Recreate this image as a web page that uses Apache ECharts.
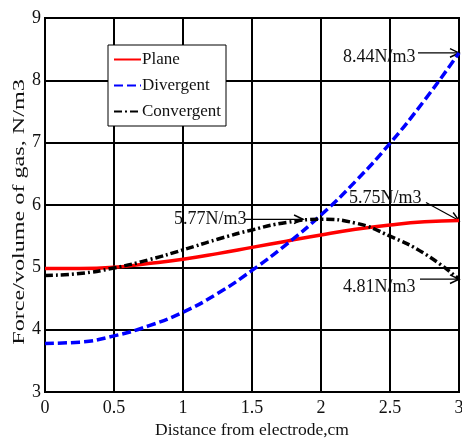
<!DOCTYPE html>
<html>
<head>
<meta charset="utf-8">
<script src="https://cdn.jsdelivr.net/npm/echarts@6/dist/echarts.min.js"></script>
<style>
  html, body { margin: 0; padding: 0; background: #fff; }
  #chart { width: 462px; height: 439px; }
</style>
</head>
<body>
<div id="chart"></div>
<script>
// distance from electrode, cm
const distance = [0, 0.25, 0.5, 0.75, 1, 1.25, 1.5, 1.75, 2, 2.25, 2.5, 2.75, 3];
// force per volume of gas, N/m3
const plane      = [4.98, 4.98, 5.00, 5.06, 5.13, 5.22, 5.32, 5.42, 5.52, 5.61, 5.68, 5.73, 5.75];
const divergent  = [3.78, 3.80, 3.90, 4.06, 4.28, 4.58, 4.95, 5.37, 5.84, 6.38, 6.99, 7.68, 8.44];
const convergent = [4.87, 4.90, 4.99, 5.12, 5.28, 5.45, 5.60, 5.72, 5.77, 5.71, 5.50, 5.22, 4.81];

const notes = [
  { text: '8.44N/m3', at: [3, 8.44] },
  { text: '5.75N/m3', at: [3, 5.75] },
  { text: '4.81N/m3', at: [3, 4.81] },
  { text: '5.77N/m3', at: [1.87, 5.77] }
];

const yName = 'Force/volume of gas, N/m3';

const pair = (ys) => distance.map((x, i) => [x, ys[i]]);
const font = 'Liberation Serif';

let chart = echarts.init(document.getElementById('chart'));

let option = {
  animation: false,
  backgroundColor: '#fff',
  textStyle: { fontFamily: font },
  grid: { left: 45, right: 3, top: 18, bottom: 47, containLabel: false, outerBoundsMode: 'none' },
  legend: {
    orient: 'vertical',
    left: 108, top: 45,
    backgroundColor: '#fff',
    borderColor: '#000', borderWidth: 1,
    padding: [6, 5, 6, 5],
    itemGap: 9,
    itemWidth: 27, itemHeight: 10,
    itemStyle: { opacity: 0 },
    textStyle: { fontFamily: font, fontSize: 17, color: '#111', padding: [0, 0, 0, -4] },
    data: ['Plane', 'Divergent', 'Convergent']
  },
  xAxis: {
    type: 'value', min: 0, max: 3, interval: 0.5,
    name: 'Distance from electrode,cm',
    nameLocation: 'middle', nameGap: 24,
    nameTextStyle: { fontFamily: font, fontSize: 17.5, color: '#111' },
    axisLine: { lineStyle: { color: '#000', width: 2 } },
    axisTick: { show: false },
    axisLabel: { fontFamily: font, fontSize: 18, color: '#111', margin: 7 },
    splitLine: { lineStyle: { color: '#000', width: 2 } }
  },
  yAxis: {
    type: 'value', min: 3, max: 9, interval: 1,
    axisLine: { show: true, lineStyle: { color: '#000', width: 2 } },
    axisTick: { show: false },
    axisLabel: { fontFamily: font, fontSize: 18, color: '#111', margin: 4 },
    splitLine: { lineStyle: { color: '#000', width: 2 } }
  },
  series: [
    {
      name: 'Plane', type: 'line', data: pair(plane), smooth: true,
      symbol: 'none', color: '#ff0000',
      lineStyle: { width: 3.5, color: '#ff0000' }
    },
    {
      name: 'Divergent', type: 'line', data: pair(divergent), smooth: true,
      symbol: 'none', color: '#0000ff',
      lineStyle: { width: 3.5, color: '#0000ff', type: [9, 4] }
    },
    {
      name: 'Convergent', type: 'line', data: pair(convergent), smooth: true,
      symbol: 'none', color: '#000',
      lineStyle: { width: 3.5, color: '#000', type: [8, 3, 2, 3] }
    }
  ]
};

chart.setOption(option);

// frame on top and right side
const tl = chart.convertToPixel('grid', [0, 9]);
const br = chart.convertToPixel('grid', [3, 3]);

// annotation placement: text position, arrow start offset (pixels relative to target)
const layout = [
  { dx: -116, dy: 4, from: [-41, 0] },
  { dx: -110, dy: -22, from: [-33, -18] },
  { dx: -116, dy: 8, from: [-39, 0] },
  { dx: -129, dy: 0, from: [-58, 0] }
];

let graphics = [
  {
    type: 'rect', silent: true,
    shape: { x: tl[0], y: tl[1], width: br[0] - tl[0], height: br[1] - tl[1] },
    style: { fill: 'none', stroke: '#000', lineWidth: 2 }
  },
  {
    // y-axis title, stretched along its length like the original
    type: 'text', silent: true,
    x: 20, y: 212, rotation: Math.PI / 2, scaleX: 1.42,
    style: { text: yName, fill: '#111', font: '17px ' + font, align: 'center', verticalAlign: 'middle' }
  }
];

notes.forEach((n, i) => {
  const p = chart.convertToPixel('grid', n.at);
  const L = layout[i];
  const sx = p[0] + L.from[0], sy = p[1] + L.from[1];
  const ang = Math.atan2(p[1] - sy, p[0] - sx);
  const h = 10, w = 0.45;
  graphics.push({
    type: 'text', silent: true,
    x: p[0] + L.dx, y: p[1] + L.dy,
    style: { text: n.text, fill: '#111', font: '18px ' + font, verticalAlign: 'middle' }
  });
  graphics.push({
    type: 'line', silent: true,
    shape: { x1: sx, y1: sy, x2: p[0], y2: p[1] },
    style: { stroke: '#000', lineWidth: 1.2 }
  });
  graphics.push({
    type: 'polyline', silent: true,
    shape: { points: [
      [p[0] - h * Math.cos(ang - w), p[1] - h * Math.sin(ang - w)],
      [p[0], p[1]],
      [p[0] - h * Math.cos(ang + w), p[1] - h * Math.sin(ang + w)]
    ] },
    style: { stroke: '#000', lineWidth: 1.5, fill: 'none' }
  });
});

chart.setOption({ graphic: graphics });
</script>
</body>
</html>
